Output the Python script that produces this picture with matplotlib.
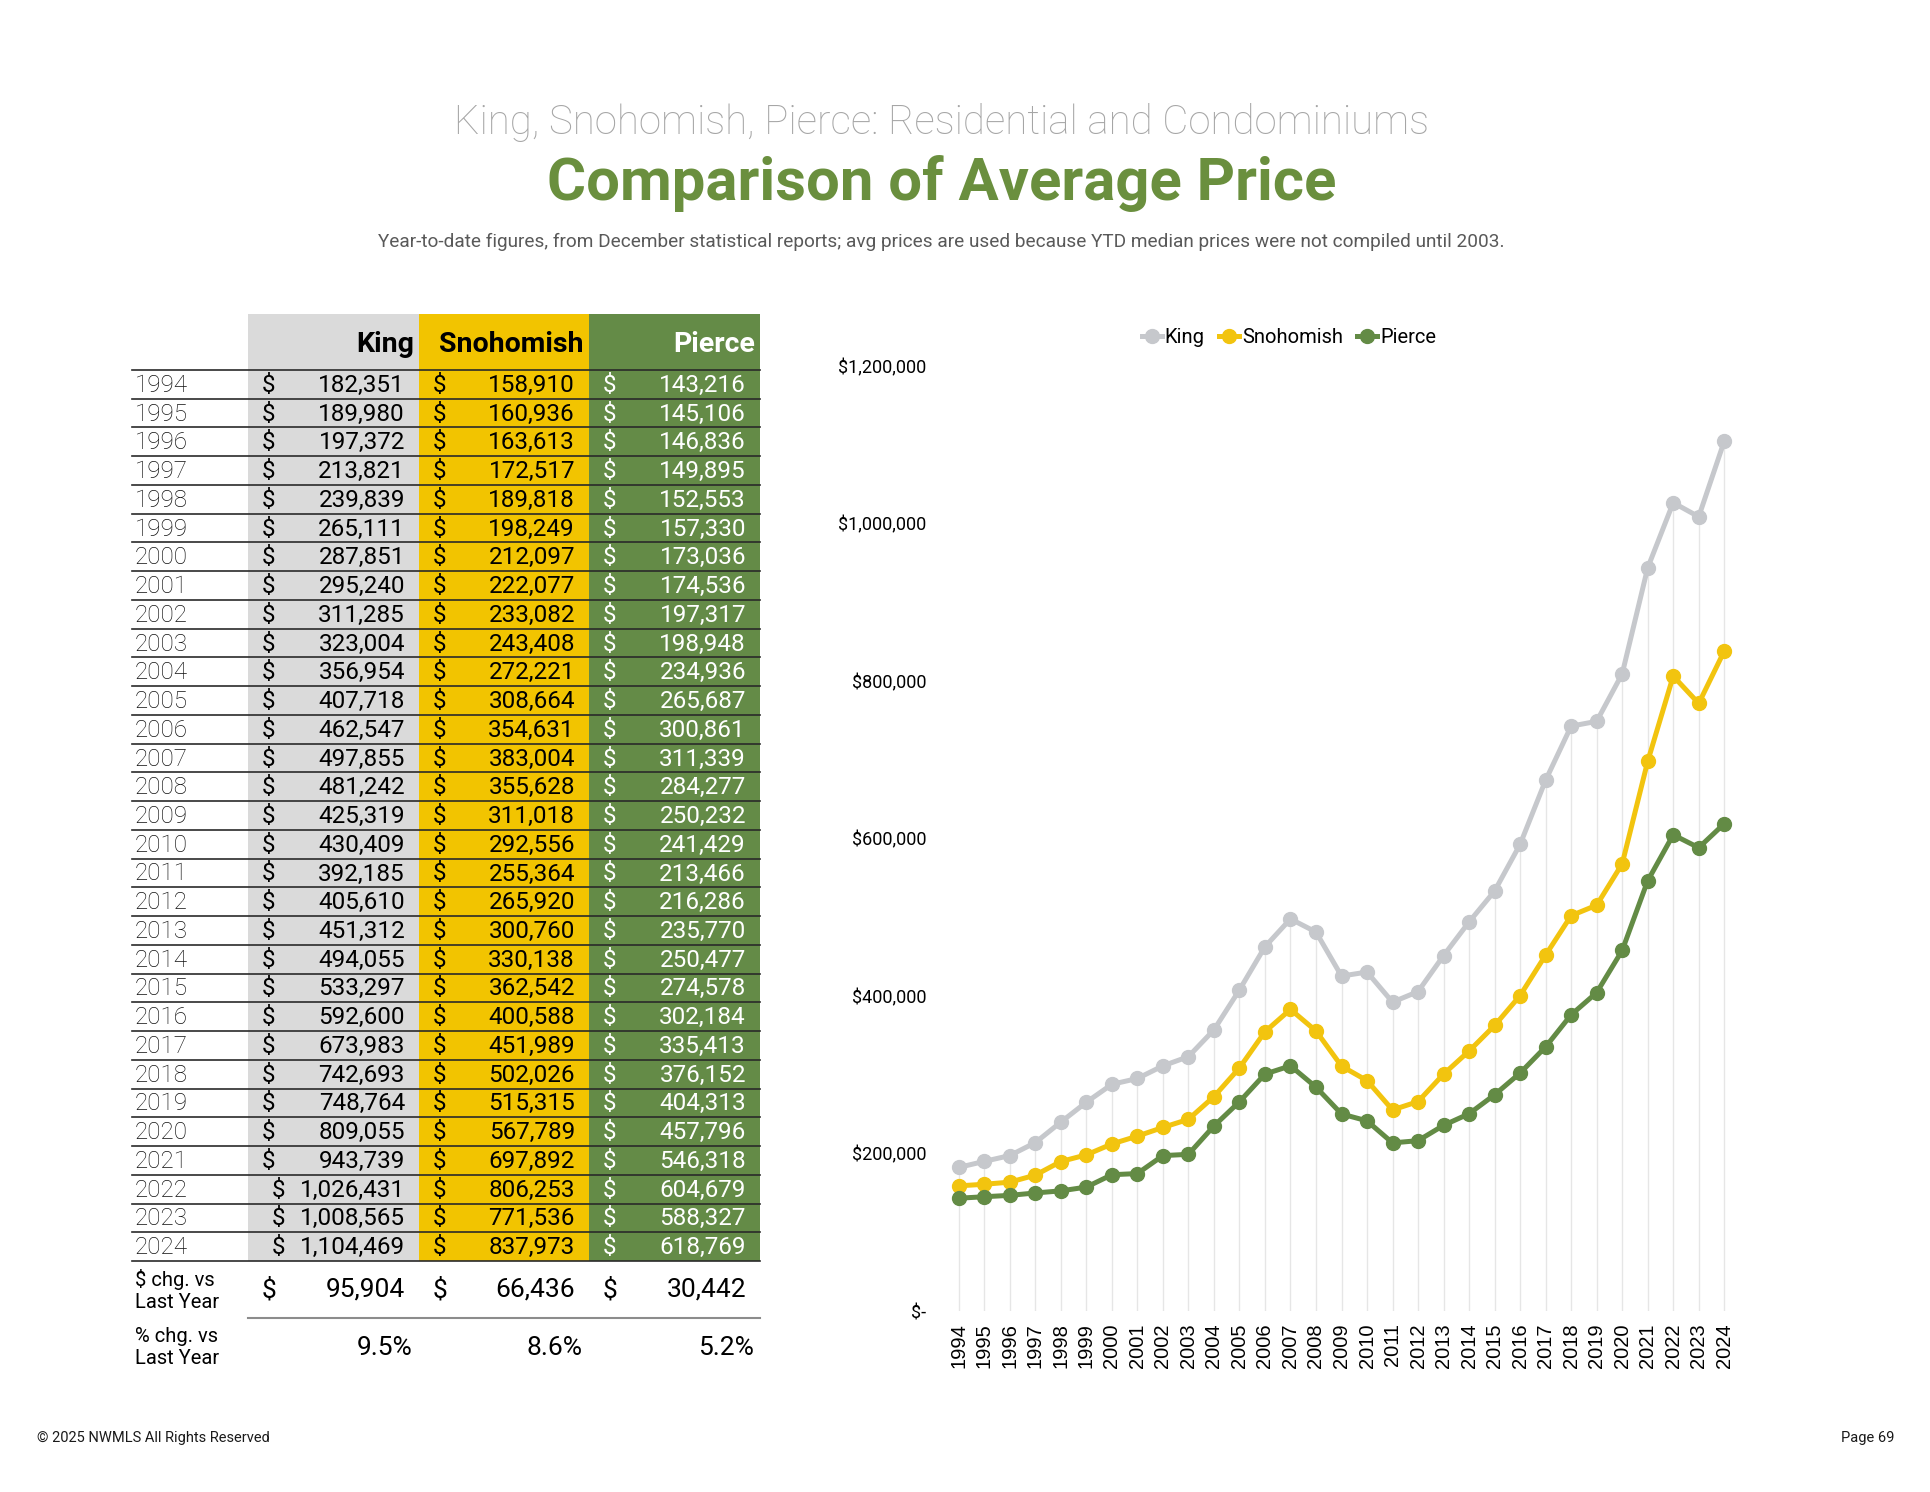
import matplotlib
matplotlib.use('Agg')
import matplotlib.pyplot as plt
from matplotlib.patches import Rectangle
from matplotlib.ticker import FuncFormatter

# ---------------- data ----------------
years = list(range(1994, 2025))
king = [182351, 189980, 197372, 213821, 239839, 265111, 287851, 295240, 311285, 323004,
        356954, 407718, 462547, 497855, 481242, 425319, 430409, 392185, 405610, 451312,
        494055, 533297, 592600, 673983, 742693, 748764, 809055, 943739, 1026431, 1008565,
        1104469]
snohomish = [158910, 160936, 163613, 172517, 189818, 198249, 212097, 222077, 233082, 243408,
             272221, 308664, 354631, 383004, 355628, 311018, 292556, 255364, 265920, 300760,
             330138, 362542, 400588, 451989, 502026, 515315, 567789, 697892, 806253, 771536,
             837973]
pierce = [143216, 145106, 146836, 149895, 152553, 157330, 173036, 174536, 197317, 198948,
          234936, 265687, 300861, 311339, 284277, 250232, 241429, 213466, 216286, 235770,
          250477, 274578, 302184, 335413, 376152, 404313, 457796, 546318, 604679, 588327,
          618769]
counties = ['King', 'Snohomish', 'Pierce']
chg_dollar = [95904, 66436, 30442]
chg_pct = [9.5, 8.6, 5.2]
yticks = [0, 200000, 400000, 600000, 800000, 1000000, 1200000]

# ---------------- style ----------------
C_KING_BG = '#dadada'
C_SNO = '#f2c400'
C_PIE = '#648b47'
C_KING_LINE = '#c6c8cc'
C_SNO_LINE = '#f2c40f'
C_PIE_LINE = '#638b45'
C_TITLE = '#6a8f3e'
FONT = 'Roboto'

W, H = 1931, 1492
fig = plt.figure(figsize=(W / 100, H / 100), dpi=100)
fig.patch.set_facecolor('white')
bg = fig.add_axes([0, 0, 1, 1])
bg.set_xlim(0, W)
bg.set_ylim(H, 0)
bg.axis('off')

# titles
bg.text(942, 122, 'King, Snohomish, Pierce: Residential and Condominiums', ha='center', va='center',
        fontsize=29, family=FONT, weight='light', color='#a6a6a6')
bg.text(942, 183, 'Comparison of Average Price', ha='center', va='center',
        fontsize=43, family=FONT, weight='bold', color=C_TITLE)
bg.text(941, 242, 'Year-to-date figures, from December statistical reports; avg prices are used because '
        'YTD median prices were not compiled until 2003.', ha='center', va='center',
        fontsize=13.65, family=FONT, color='#595959')

# footer
bg.text(37, 1438, '\u00a9 2025 NWMLS All Rights Reserved', ha='left', va='center',
        fontsize=10.5, family=FONT, color='#1a1a1a')
bg.text(1894, 1438, 'Page 69', ha='right', va='center',
        fontsize=10.5, family=FONT, color='#1a1a1a')

# ---------------- table ----------------
year_x0 = 132
cols = [(248, 419), (419, 589), (589, 760)]
col_bg = [C_KING_BG, C_SNO, C_PIE]
col_txt = ['black', 'black', 'white']
head_top, tab_top = 314, 370
n = len(years)
rh = (1261 - tab_top) / n
tab_bot = tab_top + n * rh

for (x0, x1), c in zip(cols, col_bg):
    bg.add_patch(Rectangle((x0, head_top), x1 - x0, tab_bot - head_top, facecolor=c,
                           edgecolor='none', zorder=1))

for name, (x0, x1), tc in zip(counties, cols, col_txt):
    bg.text(x1 - 5, 344, name, ha='right', va='center', fontsize=20.5, family=FONT,
            weight='bold', color=tc, zorder=3)

series = [king, snohomish, pierce]
for i, yr in enumerate(years):
    yc = tab_top + (i + 0.5) * rh + 1
    bg.text(135, yc, str(yr), ha='left', va='center', fontsize=17.5, family=FONT,
            weight='light', color='#111111', zorder=3)
    for s, (x0, x1), tc in zip(series, cols, col_txt):
        v = s[i]
        dx = 24 if v >= 1000000 else 14
        bg.text(x0 + dx, yc, '$', ha='left', va='center', fontsize=17.5, family=FONT,
                color=tc, zorder=3)
        bg.text(x1 - 14, yc, f'{v:,}', ha='right', va='center', fontsize=17.5, family=FONT,
                color=tc, zorder=3)

for i in range(n + 1):
    y = tab_top + i * rh
    bg.plot([year_x0, 760], [y, y], color='#2a2a2a', lw=1.2, zorder=2)

# change rows
yc1 = 1290
bg.text(135, yc1, '$ chg. vs\nLast Year', ha='left', va='center', fontsize=14.5, family=FONT,
        color='black', linespacing=1.2)
for v, (x0, x1) in zip(chg_dollar, cols):
    bg.text(x0 + 14, yc1, '$', ha='left', va='center', fontsize=19, family=FONT, color='black')
    bg.text(x1 - 14, yc1, f'{v:,}', ha='right', va='center', fontsize=19, family=FONT,
            color='black')
bg.plot([248, 760], [1318, 1318], color='#8c8c8c', lw=1.5)
yc2 = 1348
bg.text(135, yc2, '% chg. vs\nLast Year', ha='left', va='center', fontsize=14.5, family=FONT,
        color='black', linespacing=1.2)
for v, (x0, x1) in zip(chg_pct, cols):
    bg.text(x1 - 6, yc2, f'{v:.1f}%', ha='right', va='center', fontsize=19, family=FONT,
            color='black')

# ---------------- chart ----------------
ax = fig.add_axes([946 / W, (H - 1311) / H, (1737 - 946) / W, (1311 - 366) / H])
ax.set_facecolor('none')
ax.set_xlim(years[0] - 0.5, years[-1] + 0.5)
ax.set_ylim(yticks[0], yticks[-1])
for sp in ax.spines.values():
    sp.set_visible(False)

tops = [max(a, b, c) for a, b, c in zip(king, snohomish, pierce)]
ax.vlines(years, 0, tops, color='#e6e6e6', lw=1, zorder=0)

ax.plot(years, king, '-o', color=C_KING_LINE, lw=3.6, ms=10, label='King', zorder=2)
ax.plot(years, snohomish, '-o', color=C_SNO_LINE, lw=3.6, ms=10, label='Snohomish', zorder=3)
ax.plot(years, pierce, '-o', color=C_PIE_LINE, lw=3.6, ms=10, label='Pierce', zorder=4)

ax.set_yticks(yticks)
ax.yaxis.set_major_formatter(FuncFormatter(lambda v, p: '$-' if v == 0 else f'${v:,.0f}'))
ax.set_xticks(years)
ax.set_xticklabels([str(y) for y in years], rotation=90, family='Liberation Sans', fontsize=14.5)
for lab in ax.get_yticklabels():
    lab.set_family(FONT)
    lab.set_fontsize(13)
ax.tick_params(axis='y', length=0, pad=14, colors='black')
ax.tick_params(axis='x', length=0, pad=9, colors='black')

leg = ax.legend(loc='center', bbox_to_anchor=(1289 / W, 1 - 337.5 / H), bbox_transform=fig.transFigure,
                ncol=3, frameon=False, handlelength=1.0, handletextpad=0.15, columnspacing=0.7,
                prop={'family': FONT, 'size': 14.5})

fig.savefig('out.png', dpi=100, facecolor='white')
